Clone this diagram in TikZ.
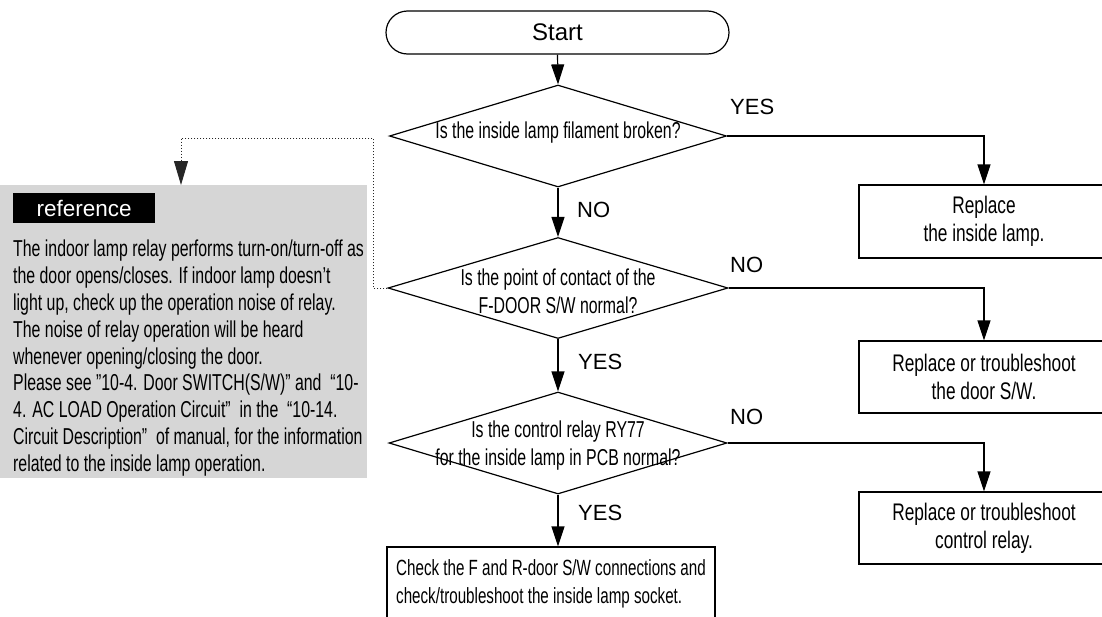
\documentclass[tikz,border=0pt]{standalone}
\usepackage{fontspec}
\setmainfont{Liberation Sans}
\newfontfamily\nar[FakeStretch=0.69,Ligatures=TeX]{Liberation Sans}
\newfontfamily\narb[FakeStretch=0.72,Ligatures=TeX]{Liberation Sans}
\usetikzlibrary{shapes.geometric,arrows.meta}
\definecolor{refgray}{RGB}{214,214,214}
\begin{document}
\begin{tikzpicture}[x=1pt,y=-1pt,
  arr/.style={-{Triangle[length=20pt,width=13pt]}, line width=1.2pt},
  dotline/.style={-{Triangle[length=24pt,width=14pt]}, line width=1pt, dash pattern=on 1pt off 2pt, black!85},
  dec/.style={draw, shape=diamond, line width=1.2pt, inner sep=0pt},
  rbox/.style={draw, rectangle, line width=1.2pt, inner sep=0pt, align=center, minimum width=250pt, font=\narb\fontsize{24}{28}\selectfont},
  lbl/.style={font=\fontsize{22}{26}\selectfont, inner sep=0pt},
  ftxt/.style={font=\nar\fontsize{23}{28}\selectfont, align=center, inner sep=0pt}]
\useasboundingbox (0,0) rectangle (1102,616);

% reference panel
\node[fill=refgray, anchor=north west, minimum width=367pt, minimum height=293pt, inner sep=0pt] (ref) at (0,185) {};
\node[fill=black, text=white, anchor=north west, minimum width=142pt, minimum height=30pt, inner sep=0pt, font=\fontsize{22.5}{26}\selectfont] (reflbl) at (13,193) {reference};
\node[anchor=north west, inner sep=0pt, align=left, font=\nar\fontsize{23}{26.8}\selectfont] (reftxt) at (13,240) {The indoor lamp relay performs turn-on/turn-off as\\
the door opens/closes. If indoor lamp doesn't\\
light up, check up the operation noise of relay.\\
The noise of relay operation will be heard\\
whenever opening/closing the door.\\
Please see ”10-4. Door SWITCH(S/W)” and\ \ “10-\\
4. AC LOAD Operation Circuit”\ \ in the\ \ “10-14.\\
Circuit Description”\ \ of manual, for the information\\
related to the inside lamp operation.};

% flow
\node[draw, line width=1.2pt, rounded corners=21.5pt, minimum width=343pt, minimum height=43pt, inner sep=0pt, font=\fontsize{24}{28}\selectfont] (start) at (557.5,32.5) {Start};

\node[dec, minimum width=337pt, minimum height=102pt] (d1) at (558,136) {};
\node[ftxt] (t1) at (558,133) {Is the inside lamp filament broken?};

\node[dec, minimum width=340pt, minimum height=101pt] (d2) at (558,288) {};
\node[ftxt] (t2) at (558,291) {Is the point of contact of the\\F-DOOR S/W normal?};

\node[dec, minimum width=338pt, minimum height=102pt] (d3) at (558,443) {};
\node[ftxt] (t3) at (558,446) {Is the control relay RY77\\for the inside lamp in PCB normal?};

\node[rbox, minimum height=73pt] (b1) at (984,221.5) {Replace\\the inside lamp.};
\node[rbox, minimum height=72pt] (b2) at (984,377) {Replace or troubleshoot\\the door S/W.};
\node[rbox, minimum height=72pt] (b3) at (984,528) {Replace or troubleshoot\\control relay.};

\node[draw, line width=1.2pt, minimum width=328pt, minimum height=74pt, inner sep=0pt, align=left, font=\nar\fontsize{22}{27.5}\selectfont] (fin) at (551,584) {Check the F and R-door S/W connections and\\check/troubleshoot the inside lamp socket.};

% labels
\node[lbl, anchor=west] (y1) at (730,107) {YES};
\node[lbl, anchor=west] (n1) at (577,210) {NO};
\node[lbl, anchor=west] (n2) at (730,265) {NO};
\node[lbl, anchor=west] (y2) at (578,362) {YES};
\node[lbl, anchor=west] (n3) at (730,417) {NO};
\node[lbl, anchor=west] (y3) at (578,513) {YES};

% connectors
\draw[arr] (start.south) -- (d1.north);
\draw[arr] (d1.east) -| (b1.north);
\draw[arr] (d1.south) -- (d2.north);
\draw[arr] (d2.east) -| (b2.north);
\draw[arr] (d2.south) -- (d3.north);
\draw[arr] (d3.east) -| (b3.north);
\draw[arr] (d3.south) -- (d3.south |- fin.north);

\coordinate (dc1) at (373,138);
\coordinate (dc2) at (181,138);
\draw[dotline] (d2.west) -| (dc1) -- (dc2) -- (dc2 |- ref.north);
\end{tikzpicture}
\end{document}
